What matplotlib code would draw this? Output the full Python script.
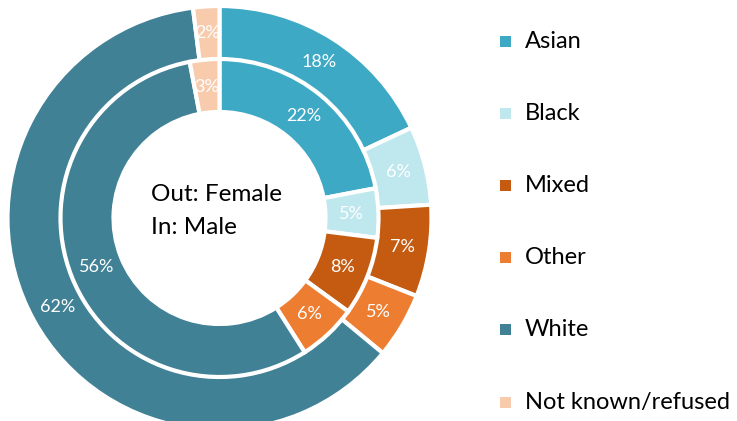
import matplotlib.pyplot as plt
from matplotlib.patches import Rectangle

# dane
categories = ['Asian', 'Black', 'Mixed', 'Other', 'White', 'Not known/refused']
female = [18, 6, 7, 5, 62, 2]   # pierścień zewnętrzny
male = [22, 5, 8, 6, 56, 3]     # pierścień wewnętrzny
colors = ['#3EA9C5', '#BEE7EE', '#C55A11', '#ED7D31', '#418195', '#F8CBAD']

plt.rcParams['font.family'] = ['Lato', 'DejaVu Sans']

W, H = 737, 421
fig = plt.figure(figsize=(W / 100, H / 100), dpi=100)

# oś w pikselach: środek wykresu w (219.5, 218) od góry
cx, cy = 219.5, 218
half = 230
ax = fig.add_axes([(cx - half) / W, (H - cy - half) / H, 2 * half / W, 2 * half / H])
ax.set_xlim(-half, half)
ax.set_ylim(-half, half)
ax.set_aspect('equal')
ax.axis('off')

edge = dict(edgecolor='white', linewidth=3)

# zewnętrzny - kobiety
ax.pie(female, radius=212, colors=colors, startangle=90, counterclock=False,
       wedgeprops=dict(width=54, **edge), autopct='%.0f%%', pctdistance=0.873,
       textprops=dict(color='white', fontsize=13))

# wewnętrzny - mężczyźni
ax.pie(male, radius=159, colors=colors, startangle=90, counterclock=False,
       wedgeprops=dict(width=53, **edge), autopct='%.0f%%', pctdistance=0.83,
       textprops=dict(color='white', fontsize=13))

ax.set_xlim(-half, half)
ax.set_ylim(-half, half)

ax.text(151 - cx, cy - 211, 'Out: Female\nIn: Male', ha='left', va='center',
        fontsize=17.5, color='black', linespacing=1.65)

# legenda
for i, (lab, col) in enumerate(zip(categories, colors)):
    y = 41 + i * 72.2
    fig.add_artist(Rectangle(((500) / W, (H - y - 5.5) / H), 11 / W, 11 / H,
                             transform=fig.transFigure, facecolor=col, edgecolor='none'))
    fig.text(525 / W, (H - y) / H, lab, ha='left', va='center', fontsize=17, color='black')

fig.savefig('out.png', dpi=100)
